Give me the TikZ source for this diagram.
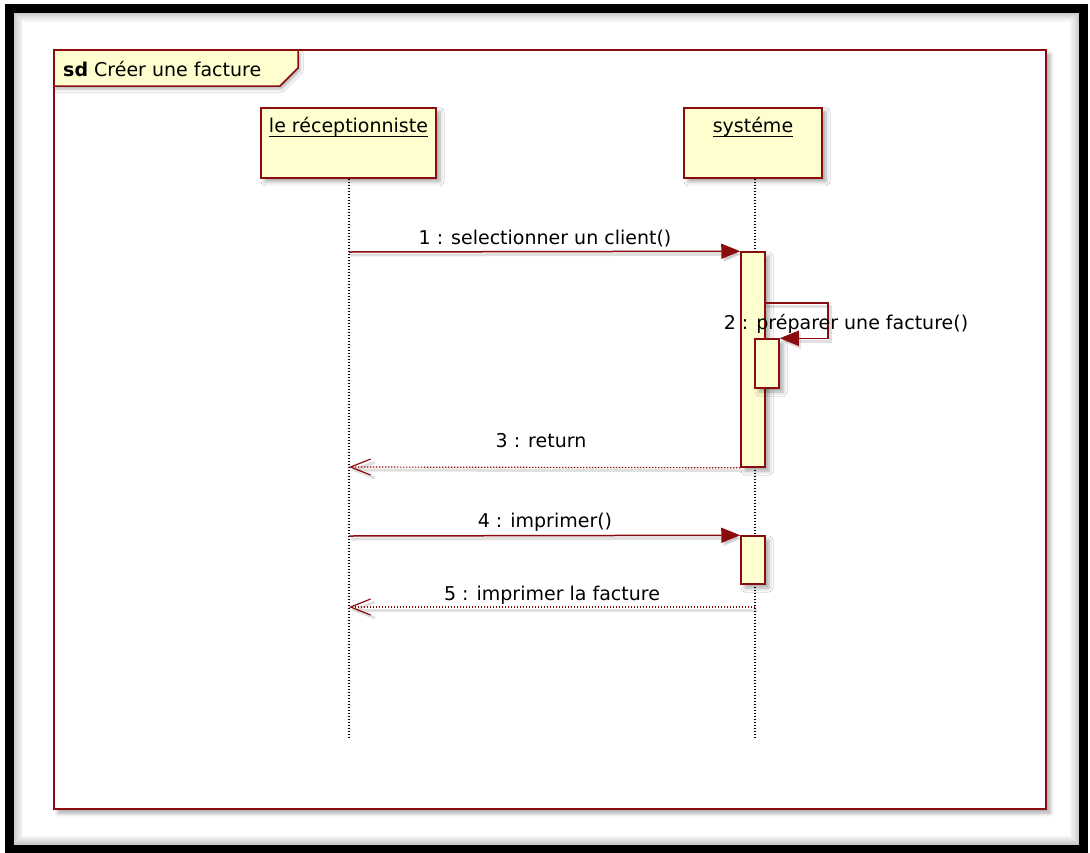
\documentclass[tikz,border=0pt]{standalone}
\usepackage{fontspec}
\setmainfont{DejaVu Sans}
\usetikzlibrary{arrows.meta,shadows.blur}
\definecolor{umlred}{RGB}{138,12,14}
\definecolor{umlfill}{RGB}{254,254,206}
% underline drawn just below the baseline
\newcommand\ulname[1]{\setbox0\hbox{#1}\rlap{\rule[-4.5pt]{\wd0}{1.1pt}}\box0}
\begin{document}
\begin{tikzpicture}[x=1pt,y=-1pt,
  font=\fontsize{19}{23}\selectfont,
  boxshadow/.style={blur shadow={shadow xshift=4pt,shadow yshift=-4pt,shadow blur radius=4pt,shadow opacity=35}},
  lineshadow/.style={preaction={draw=black, opacity=0.12, line width=3pt, solid,
    transform canvas={shift={(2pt,-3pt)}}}},
  head/.style={draw=umlred, line width=1.5pt, fill=umlfill, boxshadow,
    minimum width=#1, inner xsep=0pt, inner ysep=0pt,
    text height=25pt, text depth=45pt, anchor=north},
  actbar/.style={draw=umlred, line width=1.5pt, fill=umlfill, boxshadow,
    minimum width=24pt, inner sep=0pt},
  lifeline/.style={black, line width=1.3pt, dash pattern=on 1.3pt off 1.7pt},
  call/.style={draw=umlred, line width=1.5pt, lineshadow, -{Triangle[length=19pt,width=15pt]}},
  reply/.style={draw=umlred, line width=1.2pt, lineshadow, dash pattern=on 1.5pt off 1.5pt,
    -{Straight Barb[length=20pt,width=16pt]}},
  msglabel/.style={anchor=base, inner sep=0pt}]
\useasboundingbox (0,0) rectangle (1090,852);

% soft inner shade along the outer black border
\foreach \i in {1,...,8}
  \draw[black, opacity=0.028, line width=2.2*\i pt] (14,12.8) rectangle (1079,844.5);
\draw[black, line width=9pt] (9.5,8.3) rectangle (1083.5,849);

% sequence diagram frame and its title tab
\draw[umlred, line width=1.5pt, fill=white, boxshadow] (54,50) rectangle (1046,809);
\draw[umlred, line width=1.5pt, fill=umlfill,
  blur shadow={shadow xshift=2pt,shadow yshift=-3pt,shadow blur radius=3pt,shadow opacity=30}]
  (54,50) -- (298,50) -- (298,68) -- (280,86) -- (54,86) -- cycle;
\node[anchor=base west, inner sep=0pt] (title) at (63,76) {\textbf{sd} Créer une facture};

% participants
\node[head=175pt] (recep) at (348.5,107) {\ulname{le réceptionniste}};
\node[head=138pt] (sys) at (753,107) {\ulname{systéme}};

% lifelines
\coordinate (recepend) at (349,738);
\coordinate (sysend) at (755,738);
\draw[lifeline] (recep.south -| recepend) -- (recepend);
\draw[lifeline] (sys.south -| sysend) -- (sysend);

% activation bars
\node[actbar, minimum height=215pt] (act1) at (753,359.5) {};
\node[actbar, minimum height=49pt] (act2) at (767,363.5) {};
\node[actbar, minimum height=48pt] (act3) at (753,560) {};

% messages
\coordinate (m1) at (349,252);
\coordinate (self) at (765,303);
\coordinate (m3) at (349,467);
\coordinate (m4) at (349,536);
\coordinate (m5a) at (755,607);
\coordinate (m5b) at (349,607);
\draw[call] (m1) -- (act1.north west);
\draw[call] (self) -- ++(63,0) |- (act2.north east);
\draw[reply] (act1.south west) -- (m3);
\draw[call] (m4) -- (act3.north west);
\draw[reply] (m5a) -- (m5b);

% message labels
\node[msglabel] (l1) at (545,244) {1 : selectionner un client()};
\node[msglabel] (l2) at (846,329) {2 : préparer une facture()};
\node[msglabel] (l3) at (541,447) {3 : return};
\node[msglabel] (l4) at (545,527) {4 : imprimer()};
\node[msglabel] (l5) at (552,600) {5 : imprimer la facture};
\end{tikzpicture}
\end{document}
